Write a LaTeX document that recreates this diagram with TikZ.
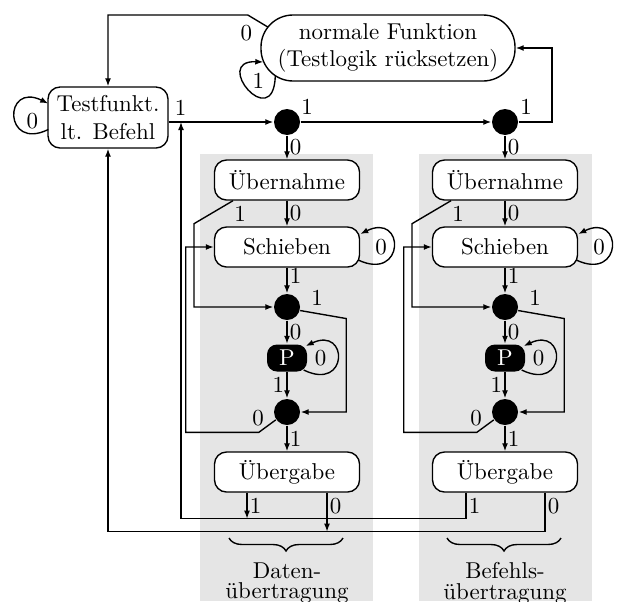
\documentclass[tikz,border=0pt]{standalone}
\usetikzlibrary{arrows.meta,decorations.pathreplacing}
\newlength{\pxu}
\setlength{\pxu}{0.436pt}
\begin{document}
\begin{tikzpicture}[x=0.436pt, y=0.436pt, line width=0.6pt,
  arr/.style={-{Latex[length=3.5pt,width=2.6pt]}},
  st/.style={draw, fill=white, rounded corners=12\pxu, minimum width=145\pxu, minimum height=40\pxu, inner sep=0pt, align=center},
  dotn/.style={circle, fill=black, minimum size=26\pxu, inner sep=0pt},
  pst/.style={fill=black, text=white, rounded corners=10\pxu, minimum width=40\pxu, minimum height=27\pxu, inner sep=0pt},
  lbl/.style={inner sep=1pt},
  bg/.style={fill=black!10},
  br/.style={decorate, decoration={brace, mirror, amplitude=13\pxu}}
]
\useasboundingbox (0,0) rectangle (618,-601);
\fill[bg] (200,-154) rectangle (373,-601);
\fill[bg] (419,-154) rectangle (592,-601);

\node[st, minimum width=254\pxu, minimum height=66\pxu, rounded corners=32\pxu] (normF) at (388,-48) {normale Funktion\\(Testlogik rücksetzen)};
\node[st, minimum width=120\pxu, minimum height=61\pxu] (test) at (108,-117.5) {Testfunkt.\\lt. Befehl};
\node[dotn] (dot1) at (287,-122) {};
\node[dotn] (dot2) at (505,-122) {};
\coordinate (jA) at (181,-122);

% reset state
\draw[arr] ([shift={(7.5,21)}]normF.west) -- ++(-20,12) -| (test.north);
\node[lbl] at ([shift={(-14,15)}]normF.west) {0};
\draw[arr] ([shift={(15,-28)}]normF.west) .. controls +(-2,-58) and +(-52,2) .. ([shift={(3,-14)}]normF.west);
\node[lbl] at ([shift={(-2,-33)}]normF.west) {1};

% idle state
\draw[arr] ([shift={(1,-12)}]test.west) .. controls +(-45,-22) and +(-45,22) .. ([shift={(1,14)}]test.west);
\node[lbl] at ([shift={(-15,-4)}]test.west) {0};
\draw[arr] (test.east |- dot1) -- (dot1);
\node[lbl] at ([shift={(12,10)}]test.east) {1};
\draw[arr] (dot1) -- (dot2);
\node[lbl] at ([shift={(20,15)}]dot1) {1};
\draw[arr] (dot2) -- ++(47,0) |- (normF.east);
\node[lbl] at ([shift={(21,15)}]dot2) {1};

\foreach \c/\n/\d in {287/D/dot1, 505/B/dot2}{
  \node[st] (ueb\n) at (\c,-180) {Übernahme};
  \node[st] (sch\n) at (\c,-247) {Schieben};
  \node[dotn] (dA\n) at (\c,-307) {};
  \node[pst] (P\n) at (\c,-358) {P};
  \node[dotn] (dB\n) at (\c,-412) {};
  \node[st] (ueg\n) at (\c,-472) {Übergabe};
  \draw[arr] (\d) -- node[right,lbl]{0} (ueb\n);
  \draw[arr] (ueb\n) -- node[right,lbl]{0} (sch\n);
  \draw[arr] ([shift={(-54,0)}]ueb\n.south) -- ++(-39,-23) |- (dA\n);
  \node[lbl] at ([shift={(-47,-13)}]ueb\n.south) {1};
  \draw[arr] ([shift={(-2,-13)}]sch\n.east) .. controls +(47,-22) and +(45,22) .. ([shift={(0,13)}]sch\n.east);
  \node[lbl] at ([shift={(21,0)}]sch\n.east) {0};
  \draw[arr] (sch\n) -- node[right,lbl,pos=0.3]{1} (dA\n);
  \draw[arr] (dA\n) -- node[right,lbl]{0} (P\n);
  \draw[arr] (dA\n.-15) -- ++(46,-8) |- (dB\n);
  \node[lbl] at ([shift={(30,9)}]dA\n) {1};
  \draw[arr] ([shift={(-4,-12)}]P\n.east) .. controls +(45,-22) and +(43,20) .. ([shift={(-2,12)}]P\n.east);
  \node[lbl] at ([shift={(13,0)}]P\n.east) {0};
  \draw[arr] (P\n) -- node[left,lbl]{1} (dB\n);
  \draw[arr] (dB\n.-145) -- ++(-17,-12.5) -- ++(-73,0) |- (sch\n.west);
  \node[lbl] at ([shift={(-29,-6)}]dB\n) {0};
  \draw[arr] (dB\n) -- node[right,lbl]{1} (ueg\n);
}

% update states
\draw[arr] ([shift={(-40,0)}]uegD.south) -- node[right,lbl]{1} ++(0,-26);
\draw[arr] ([shift={(40,0)}]uegD.south) -- node[right,lbl,pos=0.35]{0} ++(0,-39);
\draw[arr] ([shift={(-39,0)}]uegB.south) -- node[right,lbl]{1} ++(0,-26) -| (jA);
\draw[arr] ([shift={(40,0)}]uegB.south) -- node[right,lbl,pos=0.35]{0} ++(0,-39) -| (test.south);

% braces
\draw[br] (229,-538) -- (343,-538);
\draw[br] (447,-538) -- (561,-538);
\node[align=center, inner sep=0pt] (lD) at (287,-583) {Daten-\\[-3pt]übertragung};
\node[align=center, inner sep=0pt] (lB) at (505,-583) {Befehls-\\[-3pt]übertragung};
\end{tikzpicture}
\end{document}
